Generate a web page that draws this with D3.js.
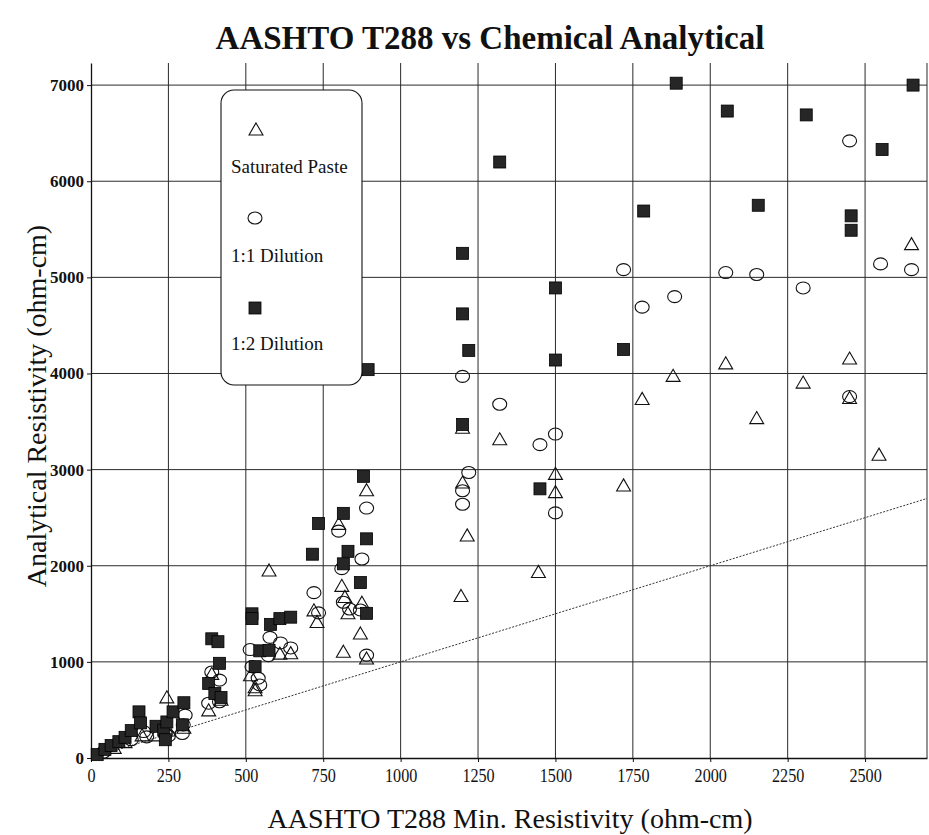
<!DOCTYPE html>
<html>
<head>
<meta charset="utf-8">
<script src="https://cdn.jsdelivr.net/npm/d3@7"></script>
<style>
  html, body { margin: 0; padding: 0; background: #fff; }
  svg { display: block; }
</style>
</head>
<body>
<svg id="chart" width="929" height="835"></svg>
<script>
// ---------------- DATA ----------------
const chartTitle = "AASHTO T288 vs Chemical Analytical";
const xAxisTitle = "AASHTO T288 Min. Resistivity (ohm-cm)";
const yAxisTitle = "Analytical Resistivity (ohm-cm)";
const seriesNames = ["Saturated Paste", "1:1 Dilution", "1:2 Dilution"];
const xTicks = [0, 250, 500, 750, 1000, 1250, 1500, 1750, 2000, 2250, 2500];
const yTicks = [0, 1000, 2000, 3000, 4000, 5000, 6000, 7000];
const refLine = [[0, 0], [2700, 2700]];

// Saturated Paste (triangles): [T288, analytical]
const saturatedPaste = [
  [75, 90], [110, 150], [165, 220], [210, 220], [245, 615], [250, 270], [300, 300],
  [380, 480], [390, 860], [420, 590], [515, 845], [530, 720], [530, 690],
  [575, 1935], [610, 1070], [645, 1075], [720, 1520], [730, 1400],
  [800, 2420], [810, 1775], [820, 1660], [830, 1490], [875, 1600], [870, 1280],
  [815, 1090], [890, 2770], [890, 1020],
  [1195, 1670], [1200, 2850], [1200, 3420], [1215, 2300], [1320, 3300],
  [1445, 1920], [1500, 2940], [1500, 2750], [1720, 2820], [1780, 3720],
  [1880, 3960], [2050, 4090], [2150, 3520], [2300, 3890], [2450, 4140],
  [2450, 3730], [2545, 3140], [2650, 5330]
];

// 1:1 Dilution (circles)
const dilution11 = [
  [40, 60], [130, 190], [170, 275], [180, 220], [240, 250], [250, 230],
  [295, 255], [298, 345], [304, 446], [380, 570], [390, 895], [415, 810],
  [415, 585], [514, 1128], [520, 950], [540, 830], [545, 760], [578, 1255],
  [573, 1065], [612, 1197], [645, 1145], [720, 1720], [735, 1510],
  [800, 2360], [810, 1970], [815, 1620], [835, 1550], [870, 1540],
  [875, 2070], [890, 2600], [890, 1070],
  [1200, 3970], [1200, 2780], [1200, 2640], [1220, 2970], [1320, 3680],
  [1450, 3260], [1500, 3370], [1500, 2550], [1720, 5080], [1780, 4690],
  [1885, 4800], [2050, 5050], [2150, 5030], [2300, 4890], [2450, 6420],
  [2450, 3760], [2550, 5140], [2650, 5080]
];

// 1:2 Dilution (filled squares)
const dilution12 = [
  [20, 35], [45, 90], [65, 130], [90, 170], [110, 215], [130, 285],
  [155, 480], [160, 365], [210, 330], [235, 290], [240, 190], [245, 375],
  [265, 480], [295, 345], [300, 575], [380, 775], [390, 1240], [410, 1210],
  [415, 985], [400, 670], [420, 630], [520, 1500], [520, 1450], [545, 1115],
  [575, 1120], [530, 950], [580, 1390], [610, 1450], [645, 1465],
  [715, 2120], [735, 2440], [815, 2545], [830, 2150], [815, 2020],
  [870, 1825], [880, 2930], [890, 2280], [890, 1505], [895, 4040],
  [1200, 5250], [1200, 4620], [1220, 4240], [1200, 3470], [1320, 6200],
  [1450, 2800], [1500, 4890], [1500, 4140], [1720, 4250], [1785, 5690],
  [1890, 7020], [2055, 6730], [2155, 5750], [2310, 6690], [2455, 5640],
  [2455, 5490], [2555, 6330], [2655, 7000]
];

// ---------------- CHART ----------------
const svg = d3.select("#chart");
const plot = { left: 91, right: 927, top: 63, bottom: 758 };
const x = d3.scaleLinear().domain([0, 2700]).range([plot.left, plot.right]);
const y = d3.scaleLinear().domain([0, 7230]).range([plot.bottom, plot.top]);

const serif = "'Liberation Serif', 'Times New Roman', serif";

// Title
svg.append("text")
  .attr("x", 490).attr("y", 49)
  .attr("text-anchor", "middle")
  .attr("font-family", serif).attr("font-weight", "bold")
  .attr("font-size", 33).attr("fill", "#111")
  .text(chartTitle);

// Grid
const grid = svg.append("g");
grid.selectAll(".vg").data(xTicks.filter(d => d > 0)).join("line")
  .attr("x1", d => x(d)).attr("x2", d => x(d))
  .attr("y1", plot.top).attr("y2", plot.bottom)
  .attr("stroke", "#2a2a2a").attr("stroke-width", 1);
grid.selectAll(".hg").data(yTicks.filter(d => d > 0)).join("line")
  .attr("x1", plot.left).attr("x2", plot.right)
  .attr("y1", d => y(d)).attr("y2", d => y(d))
  .attr("stroke", "#2a2a2a").attr("stroke-width", 1);
// right border
grid.append("line")
  .attr("x1", plot.right).attr("x2", plot.right)
  .attr("y1", plot.top).attr("y2", plot.bottom)
  .attr("stroke", "#2a2a2a").attr("stroke-width", 1);

// Axes
const xAxis = d3.axisBottom(x).tickValues(xTicks).tickFormat(d3.format("d"))
  .tickSize(4).tickSizeOuter(0);
const gx = svg.append("g").attr("transform", `translate(0,${plot.bottom})`).call(xAxis);
gx.select(".domain").attr("stroke", "#111").attr("stroke-width", 1.3);
gx.selectAll(".tick line").attr("stroke", "#111");
gx.selectAll(".tick text")
  .attr("font-family", serif).attr("font-size", 19).attr("fill", "#111")
  .attr("y", 9).attr("dy", "0.8em")
  .attr("transform", "scale(0.85,1)");

const yAxis = d3.axisLeft(y).tickValues(yTicks).tickFormat(d3.format("d"))
  .tickSize(4).tickSizeOuter(0);
const gy = svg.append("g").attr("transform", `translate(${plot.left},0)`).call(yAxis);
gy.select(".domain").attr("stroke", "#111").attr("stroke-width", 1.3);
gy.selectAll(".tick line").attr("stroke", "#111");
gy.selectAll(".tick text")
  .attr("font-family", serif).attr("font-weight", "bold")
  .attr("font-size", 17).attr("fill", "#111").attr("x", -7);

// Axis titles
svg.append("text")
  .attr("x", 510).attr("y", 828)
  .attr("text-anchor", "middle")
  .attr("font-family", serif).attr("font-size", 28).attr("fill", "#111")
  .text(xAxisTitle);
svg.append("text")
  .attr("transform", `translate(46,406) rotate(-90)`)
  .attr("text-anchor", "middle")
  .attr("font-family", serif).attr("font-size", 28).attr("fill", "#111")
  .text(yAxisTitle);

// y = x reference line
const line = d3.line().x(d => x(d[0])).y(d => y(d[1]));
svg.append("path").datum(refLine)
  .attr("d", line).attr("fill", "none")
  .attr("stroke", "#333").attr("stroke-width", 1)
  .attr("stroke-dasharray", "2,1.5");

// Markers
const tri = d3.symbol().type(d3.symbolTriangle).size(84);
const marks = svg.append("g");
marks.selectAll(".tri").data(saturatedPaste).join("path")
  .attr("d", tri)
  .attr("transform", d => `translate(${x(d[0])},${y(d[1])})`)
  .attr("fill", "none").attr("stroke", "#111").attr("stroke-width", 1.1);
marks.selectAll(".circ").data(dilution11).join("ellipse")
  .attr("cx", d => x(d[0])).attr("cy", d => y(d[1]))
  .attr("rx", 7).attr("ry", 6)
  .attr("fill", "none").attr("stroke", "#111").attr("stroke-width", 1.1);
marks.selectAll(".sq").data(dilution12).join("rect")
  .attr("x", d => x(d[0]) - 6).attr("y", d => y(d[1]) - 6)
  .attr("width", 12).attr("height", 12)
  .attr("fill", "#262626").attr("stroke", "#000").attr("stroke-width", 0.8);

// Legend
const lg = svg.append("g");
lg.append("rect")
  .attr("x", 221).attr("y", 90).attr("width", 141).attr("height", 295)
  .attr("rx", 13).attr("ry", 13)
  .attr("fill", "#fff").attr("stroke", "#111").attr("stroke-width", 1.1);
const legendRows = [
  { name: seriesNames[0], kind: "tri", sy: 131, ty: 173 },
  { name: seriesNames[1], kind: "circ", sy: 218, ty: 262 },
  { name: seriesNames[2], kind: "sq", sy: 308, ty: 350 }
];
legendRows.forEach(r => {
  if (r.kind === "tri") {
    lg.append("path").attr("d", tri).attr("transform", `translate(256,${r.sy})`)
      .attr("fill", "none").attr("stroke", "#111").attr("stroke-width", 1.1);
  } else if (r.kind === "circ") {
    lg.append("ellipse").attr("cx", 255).attr("cy", r.sy).attr("rx", 7).attr("ry", 6)
      .attr("fill", "none").attr("stroke", "#111").attr("stroke-width", 1.1);
  } else {
    lg.append("rect").attr("x", 249).attr("y", r.sy - 6).attr("width", 12).attr("height", 12)
      .attr("fill", "#262626").attr("stroke", "#000").attr("stroke-width", 0.8);
  }
  lg.append("text").attr("x", 231).attr("y", r.ty)
    .attr("font-family", serif).attr("font-size", 19).attr("fill", "#111")
    .text(r.name);
});
</script>
</body>
</html>
